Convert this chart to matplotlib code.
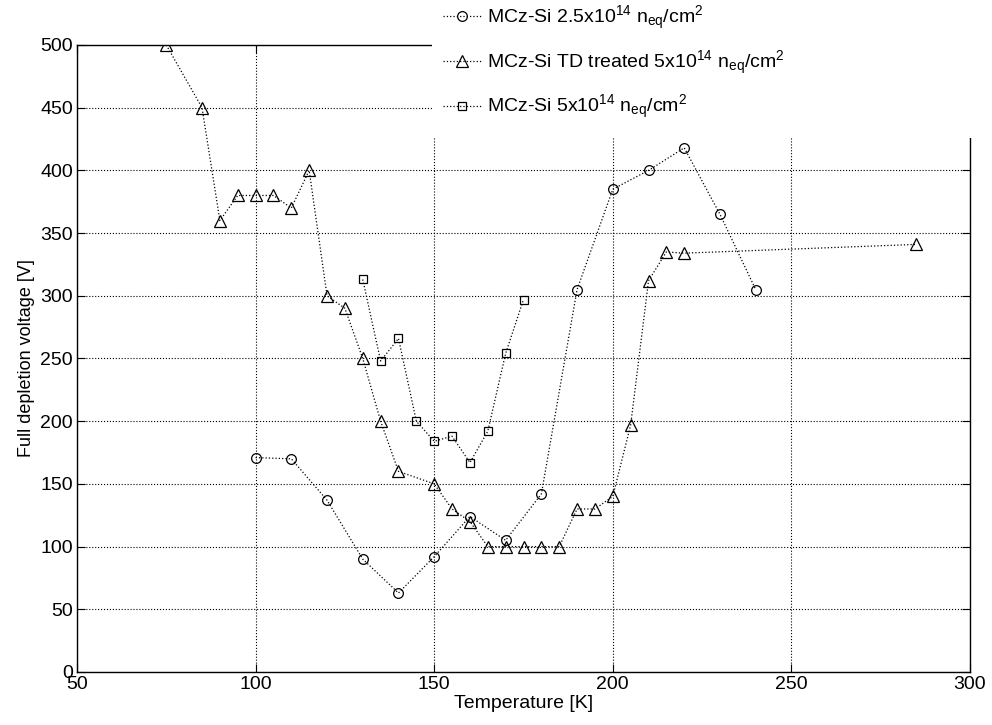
import matplotlib
matplotlib.use("Agg")
import matplotlib.pyplot as plt
from matplotlib.patches import Rectangle

plt.rcParams['font.family'] = ['Liberation Sans', 'DejaVu Sans']
plt.rcParams['mathtext.default'] = 'regular'

# MCz-Si 2.5e14
t_low = [100, 110, 120, 130, 140, 150, 160, 170, 180, 190, 200, 210, 220, 230, 240]
v_low = [171, 170, 137, 90, 63, 92, 124, 105, 142, 305, 385, 400, 418, 365, 305]

# MCz-Si TD treated 5e14
t_td = [75, 85, 90, 95, 100, 105, 110, 115, 120, 125, 130, 135, 140, 150, 155,
        160, 165, 170, 175, 180, 185, 190, 195, 200, 205, 210, 215, 220, 285]
v_td = [500, 450, 360, 380, 380, 380, 370, 400, 300, 290, 250, 200, 160, 150, 130,
        120, 100, 100, 100, 100, 100, 130, 130, 140, 197, 312, 335, 334, 341]

# MCz-Si 5e14
t_high = [130, 135, 140, 145, 150, 155, 160, 165, 170, 175]
v_high = [313, 248, 266, 200, 184, 188, 167, 192, 254, 297]

labels = [r'MCz-Si 2.5x10$^{14}$ n$_{eq}$/cm$^{2}$',
          r'MCz-Si TD treated 5x10$^{14}$ n$_{eq}$/cm$^{2}$',
          r'MCz-Si 5x10$^{14}$ n$_{eq}$/cm$^{2}$']

W, H = 992, 725
fig = plt.figure(figsize=(W / 100, H / 100), dpi=100)
# axes box in pixels: left 77, right 970, top 45, bottom 672
ax = fig.add_axes([77 / W, (H - 672) / H, (970 - 77) / W, (672 - 45) / H])

style = dict(color='black', linestyle=':', linewidth=0.9, markerfacecolor='none',
             markeredgecolor='black', markeredgewidth=0.9)
ax.plot(t_low, v_low, marker='o', markersize=7, label=labels[0], **style)
ax.plot(t_td, v_td, marker='^', markersize=8, label=labels[1], **style)
ax.plot(t_high, v_high, marker='s', markersize=6, label=labels[2], **style)

ax.set_xlim(50, 300)
ax.set_ylim(0, 500)
ax.set_xticks(range(50, 301, 50))
ax.set_yticks(range(0, 501, 50))
ax.grid(True, color='black', linestyle=':', linewidth=0.8)
ax.tick_params(direction='in', top=True, right=True, labelsize=14, length=6, pad=3)
for s in ax.spines.values():
    s.set_linewidth(1.0)
ax.set_xlabel('Temperature [K]', fontsize=14, labelpad=1)
ax.set_ylabel('Full depletion voltage [V]', fontsize=13, labelpad=4)

# white legend area covering the top-right corner of the axes
fig.patches.append(Rectangle((432 / W, 1 - 138 / H), 1 - 432 / W, 138 / H,
                             transform=fig.transFigure, facecolor='white',
                             edgecolor='none', zorder=5))

leg = fig.legend(loc='upper left', bbox_to_anchor=(443 / W, 1 - 4 / H), fontsize=14,
                 frameon=False, handlelength=2.0, handletextpad=0.25,
                 labelspacing=0.85, borderpad=0, borderaxespad=0)
leg.set_zorder(10)

fig.savefig('out.png', dpi=100)
